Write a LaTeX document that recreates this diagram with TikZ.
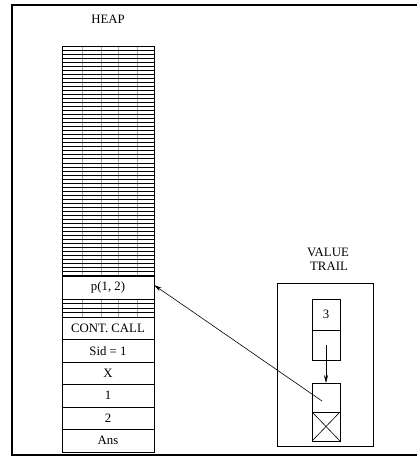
\documentclass[tikz,border=0pt]{standalone}
\usepackage{fontspec}
\setmainfont{Liberation Serif}
\usetikzlibrary{arrows.meta}
\begin{document}
\begin{tikzpicture}[x=1pt,y=-1pt,
  every node/.style={font=\fontsize{12.8}{14}\selectfont},
  cell/.style={draw, line width=0.8pt, minimum width=92pt, inner sep=0pt, outer sep=0pt, anchor=north},
  stripe/.style={line width=1pt},
  tick/.style={line width=0.35pt, gray!70},
  tcell/.style={draw, line width=0.8pt, minimum width=28pt, inner sep=0pt, outer sep=0pt, anchor=north},
  arr/.style={-{Stealth[length=8pt,width=4pt]}, line width=0.6pt}]
\useasboundingbox (0,0) rectangle (416,461);
\draw[line width=1.3pt] (12,5) rectangle (424,455);
% heap
\node (heaplbl) at (108,19) {HEAP};
\foreach \xx in {82,101,118,137} {
  \draw[tick] (\xx,46) -- (\xx,276);
  \draw[tick] (\xx,299) -- (\xx,317);
}
\foreach \i in {0,...,57} \draw[stripe] (62,46+\i*4.035) -- (154,46+\i*4.035);
\foreach \yy in {299,303.5,308,312.5,317} \draw[stripe] (62,\yy) -- (154,\yy);
\node[cell, minimum height=23pt] (p12) at (108,276) {p(1, 2)};
\node[cell, minimum height=22.5pt] (cont) at (108,317) {CONT. CALL};
\node[cell, minimum height=22.5pt] (sid) at (cont.south) {Sid = 1};
\node[cell, minimum height=22.5pt] (xv) at (sid.south) {X};
\node[cell, minimum height=22.5pt] (one) at (xv.south) {1};
\node[cell, minimum height=22.5pt] (two) at (one.south) {2};
\node[cell, minimum height=22.5pt] (ans) at (two.south) {Ans};
\draw[line width=0.8pt] (62,46) rectangle (154,452);
% value trail
\node (vlbl) at (328,252) {VALUE};
\node (tlbl) at (329,266) {TRAIL};
\node[draw, line width=0.8pt, minimum width=96pt, minimum height=163pt, inner sep=0pt, outer sep=0pt] (vt) at (325,364.5) {};
\node[tcell, minimum height=31pt] (u1) at (326,299) {3};
\node[tcell, minimum height=30pt] (u2) at (u1.south) {};
\node[tcell, minimum height=29pt] (l1) at (326,383) {};
\node[tcell, minimum height=29pt] (l2) at (l1.south) {};
\draw[line width=0.6pt] (l2.north west) -- (l2.south east) (l2.north east) -- (l2.south west);
\draw[arr] (u2.center) -- (l1.north);
\coordinate (ls) at (322,401);
\draw[arr] (ls) -- ([yshift=2.5pt]p12.east);
\end{tikzpicture}
\end{document}
